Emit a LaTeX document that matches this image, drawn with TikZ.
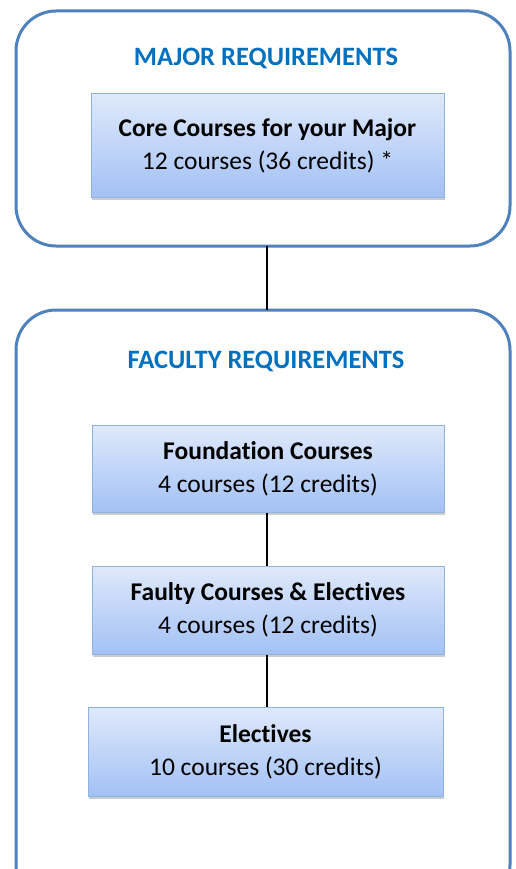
\documentclass[tikz,border=0pt]{standalone}
\usepackage{fontspec}
\setmainfont{Carlito}[Ligatures=NoCommon]
\usetikzlibrary{shadows}
\definecolor{frame}{HTML}{4F81BD}
\definecolor{titleblue}{HTML}{0070C0}
\definecolor{boxtop}{HTML}{DFE9FB}
\definecolor{boxbot}{HTML}{A3C1F5}
\definecolor{boxline}{HTML}{8EB2E4}
\tikzset{
  group/.style={draw=frame, line width=3pt, rounded corners=40pt},
  grouptitle/.style={text=titleblue, font=\fontsize{26.5}{30}\selectfont\bfseries},
  course/.style={draw=boxline, line width=1pt, top color=boxtop, bottom color=boxbot,
     minimum height=89pt, align=center, font=\fontsize{25.5}{33}\selectfont,
     drop shadow={opacity=0.4, shadow xshift=1pt, shadow yshift=-3pt}},
  link/.style={draw=black, line width=2pt}
}
\begin{document}
\begin{tikzpicture}[x=1pt,y=-1pt]
\useasboundingbox (0,0) rectangle (515,869);
\clip (0,0) rectangle (515,869);
\fill[white] (0,0) rectangle (515,869);
\draw[group] (16,11) rectangle (510,246);
\draw[group] (16,310) rectangle (510,905);
\coordinate (g1b) at (267,246);
\coordinate (g2t) at (267,310);
\node[grouptitle] (t1) at (266,58.5) {MAJOR REQUIREMENTS};
\node[grouptitle] (t2) at (266,361.5) {FACULTY REQUIREMENTS};
\node[course, minimum width=353pt, minimum height=103pt] (core) at (267.5,145.5) {\textbf{Core Courses for your Major}\\12 courses (36 credits) *};
\node[course, minimum width=352pt, minimum height=87pt] (found) at (268,468.5) {\textbf{Foundation Courses}\\4 courses (12 credits)};
\node[course, minimum width=352pt, minimum height=88pt] (fac) at (268,610) {\textbf{Faulty Courses \& Electives}\\4 courses (12 credits)};
\node[course, minimum width=355pt, minimum height=89pt] (elec) at (265.5,751.5) {\textbf{Electives}\\10 courses (30 credits)};
\draw[link] (g1b) -- (g2t);
\draw[link] ([xshift=-1pt]found.south) -- ([xshift=-1pt]fac.north);
\draw[link] ([xshift=-1pt]fac.south) -- ([xshift=-1pt]fac.south |- elec.north);
\end{tikzpicture}
\end{document}
